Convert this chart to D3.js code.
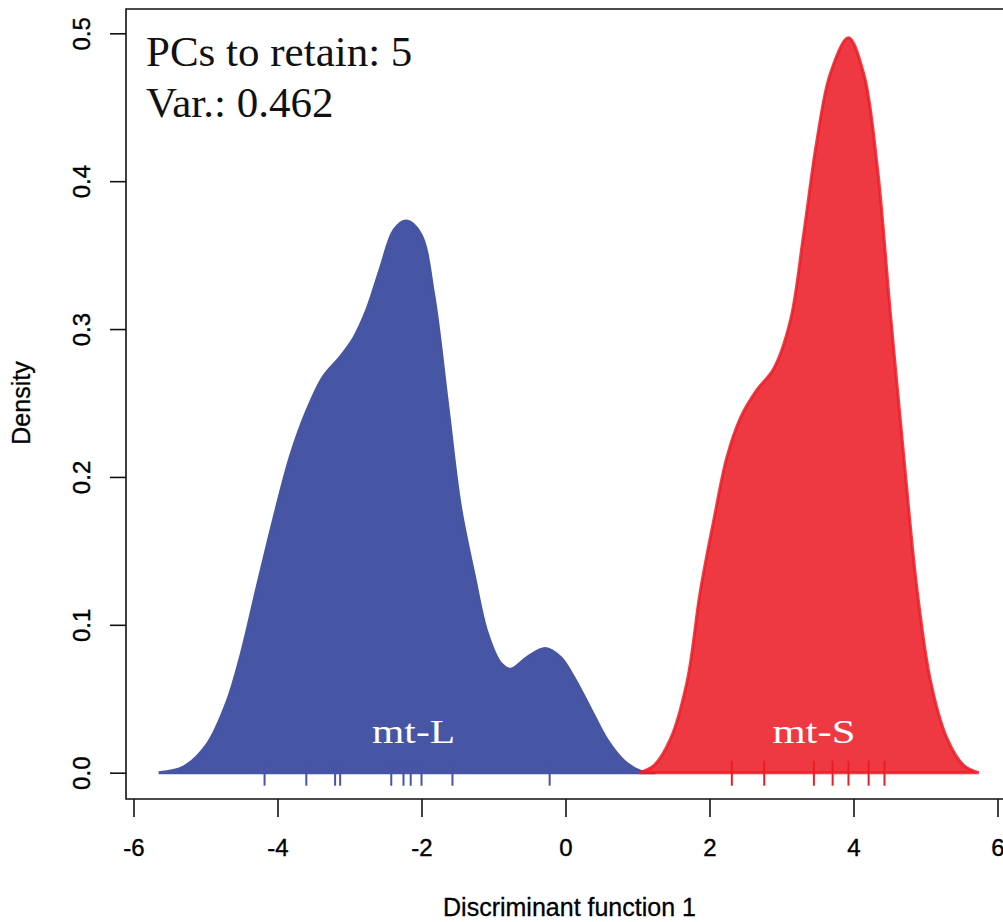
<!DOCTYPE html>
<meta charset="utf-8">
<body style="margin:0;background:#fff;">
<script src="https://d3js.org/d3.v7.min.js"></script>
<script>
	// density curves
	var blueX = [-5.65, -5.30, -4.98, -4.70, -4.51, -4.28, -4.05, -3.82, -3.59, -3.36, -3.13, -2.94, -2.76, -2.57, -2.38, -2.21, -2.01, -1.83, -1.64, -1.46, -1.27, -1.09, -0.90, -0.76, -0.53, -0.28, -0.07, 0.12, 0.35, 0.58, 0.81, 1.04, 1.25];
	var blueY = [0, 0.004, 0.019, 0.048, 0.079, 0.126, 0.172, 0.214, 0.245, 0.268, 0.281, 0.294, 0.313, 0.341, 0.367, 0.373, 0.364, 0.323, 0.250, 0.180, 0.134, 0.095, 0.074, 0.070, 0.078, 0.084, 0.078, 0.064, 0.043, 0.022, 0.008, 0.001, 0];
	var redX = [1.02, 1.23, 1.46, 1.69, 1.87, 2.06, 2.24, 2.43, 2.66, 2.89, 3.12, 3.31, 3.49, 3.68, 3.93, 4.14, 4.33, 4.51, 4.70, 4.88, 5.07, 5.30, 5.53, 5.74];
	var redY = [0, 0.005, 0.023, 0.062, 0.122, 0.171, 0.213, 0.240, 0.259, 0.273, 0.305, 0.365, 0.427, 0.473, 0.497, 0.473, 0.410, 0.312, 0.213, 0.125, 0.062, 0.023, 0.005, 0];

	// individual scores (rug)
	var blueRug = [-4.18, -3.60, -3.20, -3.13, -2.42, -2.25, -2.15, -2.00, -1.57, -0.22];
	var redRug = [2.31, 2.76, 3.45, 3.71, 3.93, 4.21, 4.43];

	var groupNames = ["mt-L", "mt-S"];
	var groupLabelX = [-2.11, 3.45];
	var xTicks = [-6, -4, -2, 0, 2, 4, 6];
	var yTicks = [0, 0.1, 0.2, 0.3, 0.4, 0.5];
	var infoLines = ["PCs to retain: 5", "Var.: 0.462"];

	var width = 1003, height = 922;
	var frame = {left: 126, top: 9, bottom: 799, right: 1010};
	var sans = "'Liberation Sans', Arial, sans-serif";
	var serif = "'Liberation Serif', 'Times New Roman', serif";

	var x = d3.scaleLinear().domain([-6, 6]).range([133.5, 997.5]);
	var y = d3.scaleLinear().domain([0, 0.5]).range([772.7, 33.3]);

	var svg = d3.select("body").append("svg")
		.attr("width", width)
		.attr("height", height)
		.style("display", "block");

	var area = d3.area()
		.curve(d3.curveCatmullRom.alpha(0.5))
		.x(function(d) { return x(d[0]); })
		.y0(y(0))
		.y1(function(d) { return Math.min(y(0), y(d[1])); });

	var blue = "#4655a4", red = "#ee3942";

	svg.append("path")
		.datum(d3.zip(blueX, blueY))
		.attr("d", area)
		.style("fill", blue)
		.style("stroke", blue)
		.style("stroke-width", 3);

	svg.append("path")
		.datum(d3.zip(redX, redY))
		.attr("d", area)
		.style("fill", red)
		.style("stroke", "#ec1c24")
		.style("stroke-opacity", 0.85)
		.style("stroke-width", 3);

	// rug
	function rug(vals, col) {
		svg.append("g").selectAll("line")
			.data(vals)
			.enter().append("line")
			.attr("x1", function(d) { return x(d); })
			.attr("x2", function(d) { return x(d); })
			.attr("y1", y(0) - 12)
			.attr("y2", y(0) + 13)
			.style("stroke", col)
			.style("stroke-width", 2);
	}
	rug(blueRug, blue);
	rug(redRug, "#ec1c24");

	// group labels
	svg.append("g").selectAll("text")
		.data(groupNames)
		.enter().append("text")
		.attr("x", function(d, i) { return x(groupLabelX[i]); })
		.attr("y", y(0.020))
		.attr("text-anchor", "middle")
		.attr("textLength", 83)
		.attr("lengthAdjust", "spacingAndGlyphs")
		.style("font-family", serif)
		.style("font-size", "33px")
		.style("fill", "#fff")
		.text(function(d) { return d; });

	// frame
	svg.append("path")
		.attr("d", "M" + frame.right + "," + frame.top + "H" + frame.left + "V" + frame.bottom + "H" + frame.right)
		.style("fill", "none")
		.style("stroke", "#111")
		.style("stroke-width", 1.6);

	// axes
	var xAxis = svg.append("g")
		.attr("transform", "translate(0," + frame.bottom + ")")
		.call(d3.axisBottom(x).tickValues(xTicks).tickSize(18).tickPadding(22).tickFormat(d3.format("d")));
	xAxis.select(".domain").remove();
	xAxis.selectAll("line").style("stroke", "#111").style("stroke-width", 1.6);
	xAxis.selectAll("text")
		.style("font-family", sans)
		.style("font-size", "24px")
		.style("fill", "#000")
		.style("stroke", "#000")
		.style("stroke-width", 0.4)
		.text(function(d) { return d < 0 ? "-" + Math.abs(d) : d; });

	var yAxis = svg.append("g")
		.attr("transform", "translate(" + frame.left + ",0)")
		.call(d3.axisLeft(y).tickValues(yTicks).tickSize(16).tickFormat(d3.format(".1f")));
	yAxis.select(".domain").remove();
	yAxis.selectAll("line").style("stroke", "#111").style("stroke-width", 1.6);
	yAxis.selectAll("text")
		.attr("x", null).attr("dy", null)
		.attr("text-anchor", "middle")
		.attr("transform", "translate(-36,0) rotate(-90)")
		.style("font-family", sans)
		.style("font-size", "24px")
		.style("fill", "#000")
		.style("stroke", "#000")
		.style("stroke-width", 0.4);

	// axis titles
	svg.append("text")
		.attr("x", x(0) + 4)
		.attr("y", 916)
		.attr("text-anchor", "middle")
		.style("font-family", sans)
		.style("font-size", "25px")
		.style("stroke", "#000")
		.style("stroke-width", 0.3)
		.text("Discriminant function 1");

	svg.append("text")
		.attr("transform", "translate(30," + y(0.25) + ") rotate(-90)")
		.attr("text-anchor", "middle")
		.style("font-family", sans)
		.style("font-size", "25px")
		.style("stroke", "#000")
		.style("stroke-width", 0.3)
		.text("Density");

	// info text
	svg.append("g").selectAll("text")
		.data(infoLines)
		.enter().append("text")
		.attr("x", 146)
		.attr("y", function(d, i) { return 66 + i * 51; })
		.style("font-family", serif)
		.style("font-size", "43px")
		.style("fill", "#111")
		.text(function(d) { return d; });
</script>
</body>
